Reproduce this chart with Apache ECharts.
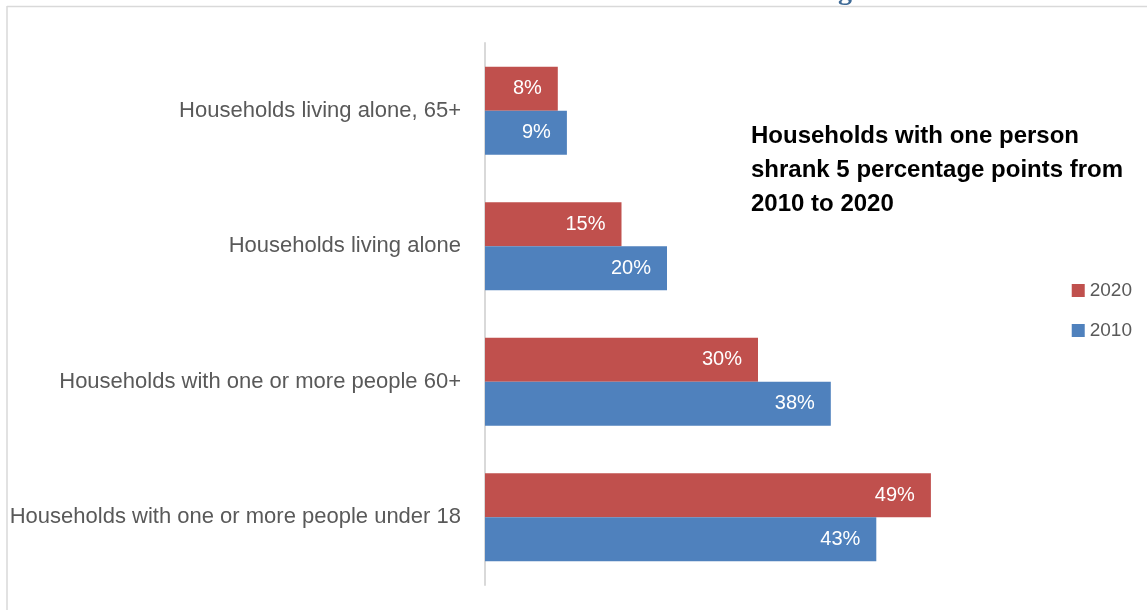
<!DOCTYPE html>
<html>
<head>
<meta charset="utf-8">
<script src="https://cdn.jsdelivr.net/npm/echarts@6/dist/echarts.min.js"></script>
<style>html,body{margin:0;padding:0;background:#fff;}#c{width:1147px;height:610px;}</style>
</head>
<body>
<div id="c"></div>
<script>
const categories = [
  'Households living alone, 65+',
  'Households living alone',
  'Households with one or more people 60+',
  'Households with one or more people under 18'
];
const seriesNames = ['2020', '2010'];
const values2020 = [8, 15, 30, 49];
const values2010 = [9, 20, 38, 43];
const annotation = 'Households with one person\nshrank 5 percentage points from\n2010 to 2020';

const SANS = "'Liberation Sans', Arial, sans-serif";
const chart = echarts.init(document.getElementById('c'), null, {renderer: 'canvas'});
chart.setOption({
  animation: false,
  backgroundColor: '#fff',
  grid: {left: 485, top: 43, width: 546, height: 542, containLabel: false, outerBoundsMode: 'none'},
  legend: {
    orient: 'vertical', right: 10, top: 276, itemWidth: 13, itemHeight: 13, itemGap: 21,
    icon: 'rect',
    textStyle: {color: '#595959', fontFamily: SANS, fontSize: 19},
    data: seriesNames
  },
  xAxis: {type: 'value', min: 0, max: 60, show: false, splitLine: {show: false}},
  yAxis: {
    type: 'category', inverse: true, data: categories,
    axisLine: {show: true, lineStyle: {color: '#d9d9d9', width: 2}},
    axisTick: {show: false},
    axisLabel: {color: '#595959', fontFamily: SANS, fontSize: 22, margin: 24}
  },
  series: [
    {name: seriesNames[0], type: 'bar', data: values2020, barGap: '0%', barCategoryGap: '35%',
     itemStyle: {color: '#C0504D'},
     label: {show: true, position: 'insideRight', distance: 16, formatter: '{c}%', color: '#fff', fontFamily: SANS, fontSize: 20}},
    {name: seriesNames[1], type: 'bar', data: values2010, barGap: '0%', barCategoryGap: '35%',
     itemStyle: {color: '#4F81BD'},
     label: {show: true, position: 'insideRight', distance: 16, formatter: '{c}%', color: '#fff', fontFamily: SANS, fontSize: 20}}
  ],
  graphic: [
    {type: 'line', shape: {x1: 7, y1: 6.5, x2: 1147, y2: 6.5}, style: {stroke: '#d9d9d9', lineWidth: 1.5}, silent: true},
    {type: 'line', shape: {x1: 7, y1: 6, x2: 7, y2: 610}, style: {stroke: '#d9d9d9', lineWidth: 1.5}, silent: true},
    {type: 'text', left: 838, top: -22, style: {text: 'g', fill: '#3E6A96', font: 'bold 28px "Liberation Serif", serif'}, silent: true},
    {type: 'text', left: 751, top: 119, style: {text: annotation, fill: '#000', font: 'bold 24px "Liberation Sans", Arial, sans-serif', lineHeight: 34}, silent: true}
  ]
});
</script>
</body>
</html>
